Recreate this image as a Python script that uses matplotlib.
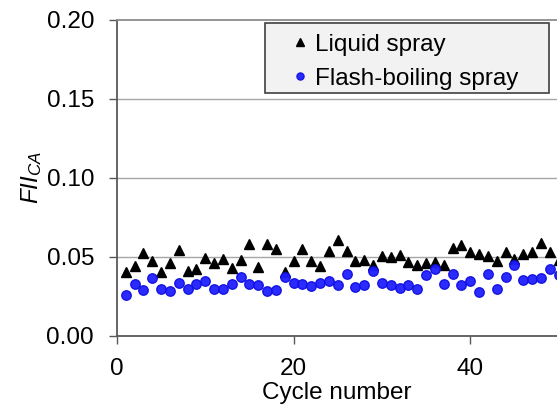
import matplotlib
matplotlib.use('Agg')
import matplotlib.pyplot as plt
from matplotlib.patches import Rectangle

plt.rcParams['font.family'] = ['Liberation Sans', 'DejaVu Sans']
plt.rcParams['mathtext.fontset'] = 'custom'
plt.rcParams['mathtext.it'] = 'Liberation Sans:italic'
plt.rcParams['mathtext.rm'] = 'Liberation Sans'

cycles = list(range(1, 51))

liquid_spray = [
    0.0402, 0.0438, 0.0525, 0.0472, 0.0402, 0.0459, 0.0544, 0.0408, 0.0423, 0.0493,
    0.0459, 0.0487, 0.0427, 0.0480, 0.0578, 0.0434, 0.0578, 0.0546, 0.0402, 0.0472,
    0.0546, 0.0472, 0.0438, 0.0535, 0.0607, 0.0535, 0.0472, 0.0480, 0.0444, 0.0502,
    0.0497, 0.0508, 0.0466, 0.0444, 0.0459, 0.0466, 0.0444, 0.0557, 0.0576, 0.0529,
    0.0514, 0.0502, 0.0472, 0.0529, 0.0487, 0.0519, 0.0529, 0.0586, 0.0529, 0.0480,
]

flash_boiling = [
    0.0254, 0.0328, 0.0286, 0.0366, 0.0296, 0.0279, 0.0334, 0.0296, 0.0328, 0.0343,
    0.0296, 0.0296, 0.0328, 0.0370, 0.0328, 0.0317, 0.0279, 0.0286, 0.0370, 0.0334,
    0.0328, 0.0311, 0.0334, 0.0343, 0.0317, 0.0392, 0.0307, 0.0322, 0.0408, 0.0334,
    0.0317, 0.0303, 0.0322, 0.0296, 0.0381, 0.0419, 0.0328, 0.0392, 0.0317, 0.0343,
    0.0275, 0.0392, 0.0292, 0.0370, 0.0449, 0.0349, 0.0356, 0.0366, 0.0423, 0.0381,
]

y_ticks = [0.00, 0.05, 0.10, 0.15, 0.20]
x_ticks = [0, 20, 40]

fig = plt.figure(figsize=(5.57, 4.05), dpi=100)
ax = fig.add_axes([117 / 557, 69.5 / 405, 440 / 557, 315.5 / 405])

# gridlines
for v in y_ticks[1:-1]:
    ax.axhline(v, color='#a6a6a6', lw=1.0, zorder=0)

ax.plot(cycles, liquid_spray, linestyle='none', marker='^', ms=7.5,
        color='black', label='Liquid spray', zorder=3)
ax.plot(cycles, flash_boiling, linestyle='none', marker='o', ms=6.8,
        color='#1f1fff', mec='#1010e0', alpha=0.95, label='Flash-boiling spray', zorder=4)

ax.set_xlim(0, 440 / 8.83)
ax.set_ylim(0, 0.20)
ax.set_xticks(x_ticks)
ax.set_yticks(y_ticks)
ax.set_yticklabels([f'{v:.2f}' for v in y_ticks])
ax.tick_params(labelsize=17.5, direction='out', length=6, width=1,
               color='#595959', pad=10.5)

ax.spines['right'].set_visible(False)
ax.spines['top'].set_color('#8c8c8c')
ax.spines['top'].set_linewidth(1.3)
for s in ['left', 'bottom']:
    ax.spines[s].set_color('#595959')
    ax.spines[s].set_linewidth(1.3)

ax.set_xlabel('Cycle number', fontsize=17.5, labelpad=1)
ax.set_ylabel(r'$FII_{CA}$', fontsize=17.5, labelpad=2)

# legend box
box = Rectangle((0.336, 0.769), 0.646, 0.221, transform=ax.transAxes,
                facecolor='#f2f2f2', edgecolor='#404040', lw=1.2, zorder=5)
ax.add_patch(box)
ax.legend(loc='upper left', bbox_to_anchor=(0.400, 0.957), frameon=False,
          fontsize=17.5, borderpad=0, borderaxespad=0, handlelength=0.6,
          handletextpad=0.3, labelspacing=0.5, markerscale=0.75).set_zorder(6)

fig.savefig('out.png', dpi=100)
